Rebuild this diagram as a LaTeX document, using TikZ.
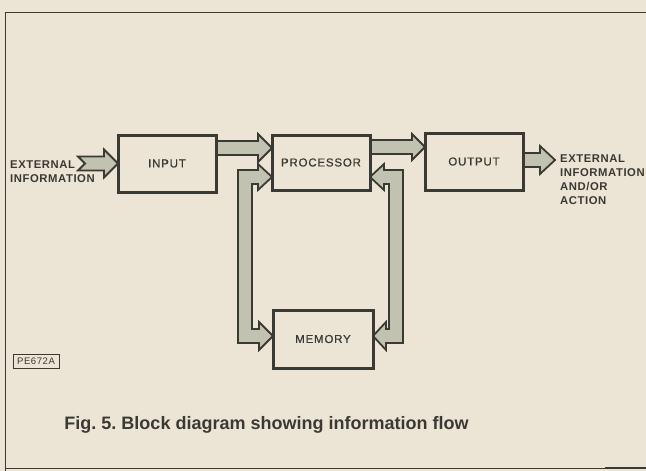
\documentclass[tikz,border=0pt]{standalone}
\usepackage{fontspec}
\setmainfont{Liberation Sans}
\newfontfamily\lblfont[LetterSpace=7,FakeBold=0.6]{Liberation Sans}
\newfontfamily\extfont[LetterSpace=5]{Liberation Sans Bold}
\newfontfamily\capfont{Liberation Sans Bold}
\newfontfamily\tagfont[LetterSpace=6]{Liberation Sans}
\usetikzlibrary{calc}
\pgfdeclarelayer{back}
\pgfsetlayers{back,main}
\definecolor{paper}{RGB}{236,228,212}
\definecolor{ink}{RGB}{58,58,52}
\definecolor{arrowfill}{RGB}{193,194,176}
\tikzset{
  blk/.style={draw=ink, line width=3pt, fill=paper, inner sep=0pt, outer sep=0pt,
    minimum width=98pt, minimum height=56pt, font=\lblfont\fontsize{11.5}{13}\selectfont, text=ink},
  fat/.style={draw=ink, line width=1.8pt, fill=arrowfill, line join=miter},
  extlbl/.style={font=\extfont\fontsize{11.3}{13.7}\selectfont, text=ink, align=left, inner sep=0pt},
  frameline/.style={draw=ink, line width=0.9pt}
}
\begin{document}
\frenchspacing
\begin{tikzpicture}[x=1pt,y=-1pt]
\useasboundingbox (0,0) rectangle (646,471);
\begin{pgfonlayer}{back}
\fill[paper] (0,0) rectangle (646,471);
\end{pgfonlayer}
% frame
\draw[frameline] (5,471) -- (5,12) -- (646,12);
\draw[frameline] (5,468) -- (646,468);
\draw[ink, line width=2.5pt] (605,468) -- (646,468);

% blocks
\node[blk, minimum height=57pt] (input) at (167,163.5) {INPUT};
\node[blk, minimum height=55pt] (processor) at (321,162.5) {PROCESSOR};
\node[blk, minimum height=57pt] (output) at (474,161.5) {OUTPUT};
\node[blk, minimum width=100pt, minimum height=58pt] (memory) at (323,339) {MEMORY};

% external labels
\node[extlbl, anchor=west] (extin) at (10,171.5) {EXTERNAL\\INFORMATION};
\node[extlbl, anchor=north west] (extout) at (560,155) {EXTERNAL\\INFORMATION\\AND/OR\\ACTION};

\begin{pgfonlayer}{back}
% external -> input
\coordinate (a0t) at (input.west);
\draw[fat] (a0t) -- ++(-14,-14) -- ++(0,7) -- ++(-26,0) -- ++(7,7) -- ++(-7,7) -- ++(26,0) -- ++(0,7) -- cycle;
% input -> processor
\coordinate (a1t) at ([yshift=14.5pt]processor.west);
\coordinate (a1s) at (input.east |- a1t);
\draw[fat] (a1t) -- ++(-14,-14) -- ++(0,7) -- ([yshift=7pt]a1s) -- ([yshift=-7pt]a1s) -- ($(a1t)+(-14,7)$) -- ++(0,7) -- cycle;
% processor -> output
\coordinate (a2t) at ([yshift=14.5pt]output.west);
\coordinate (a2s) at (processor.east |- a2t);
\draw[fat] (a2t) -- ++(-13,-13) -- ++(0,6) -- ([yshift=7pt]a2s) -- ([yshift=-7pt]a2s) -- ($(a2t)+(-13,7)$) -- ++(0,6) -- cycle;
% output -> external
\coordinate (a3t) at ([xshift=32pt,yshift=1.5pt]output.east);
\coordinate (a3s) at (output.east |- a3t);
\draw[fat] (a3t) -- ++(-15,-14) -- ++(0,7) -- ([yshift=7pt]a3s) -- ([yshift=-7pt]a3s) -- ($(a3t)+(-15,7)$) -- ++(0,7) -- cycle;
% processor <-> memory (left)
\coordinate (lt) at ([yshift=-14.5pt]processor.west);
\coordinate (lb) at ([yshift=3pt]memory.west);
\draw[fat] (lt) -- ++(-14,-13) -- ++(0,6) -- ++(-20,0) -- ($(lb)+(-35,7)$) -- ++(21,0) -- ++(0,7) -- (lb)
  -- ++(-14,-14) -- ++(0,7) -- ++(-7,0) -- ($(lt)+(-20,7)$) -- ++(6,0) -- ++(0,6) -- cycle;
% processor <-> memory (right)
\coordinate (rt) at ([yshift=-14.5pt]processor.east);
\coordinate (rb) at ([yshift=3pt]memory.east);
\draw[fat] (rt) -- ++(14,-13) -- ++(0,6) -- ++(19,0) -- ($(rb)+(30,7)$) -- ++(-17,0) -- ++(0,7) -- (rb)
  -- ++(13,-14) -- ++(0,7) -- ++(3,0) -- ($(rt)+(19,7)$) -- ++(-5,0) -- ++(0,6) -- cycle;
\end{pgfonlayer}

% tag
\node[draw=ink, line width=0.8pt, inner sep=0pt, minimum width=46pt, minimum height=14pt,
  font=\tagfont\fontsize{9.5}{10}\selectfont, text=ink] (tag) at (36,361) {PE672A};

% caption
\node[font=\capfont\fontsize{18}{21}\selectfont, text=ink, inner sep=0pt] (caption) at (266.5,425) {Fig. 5. Block diagram showing information flow};
\end{tikzpicture}
\end{document}
